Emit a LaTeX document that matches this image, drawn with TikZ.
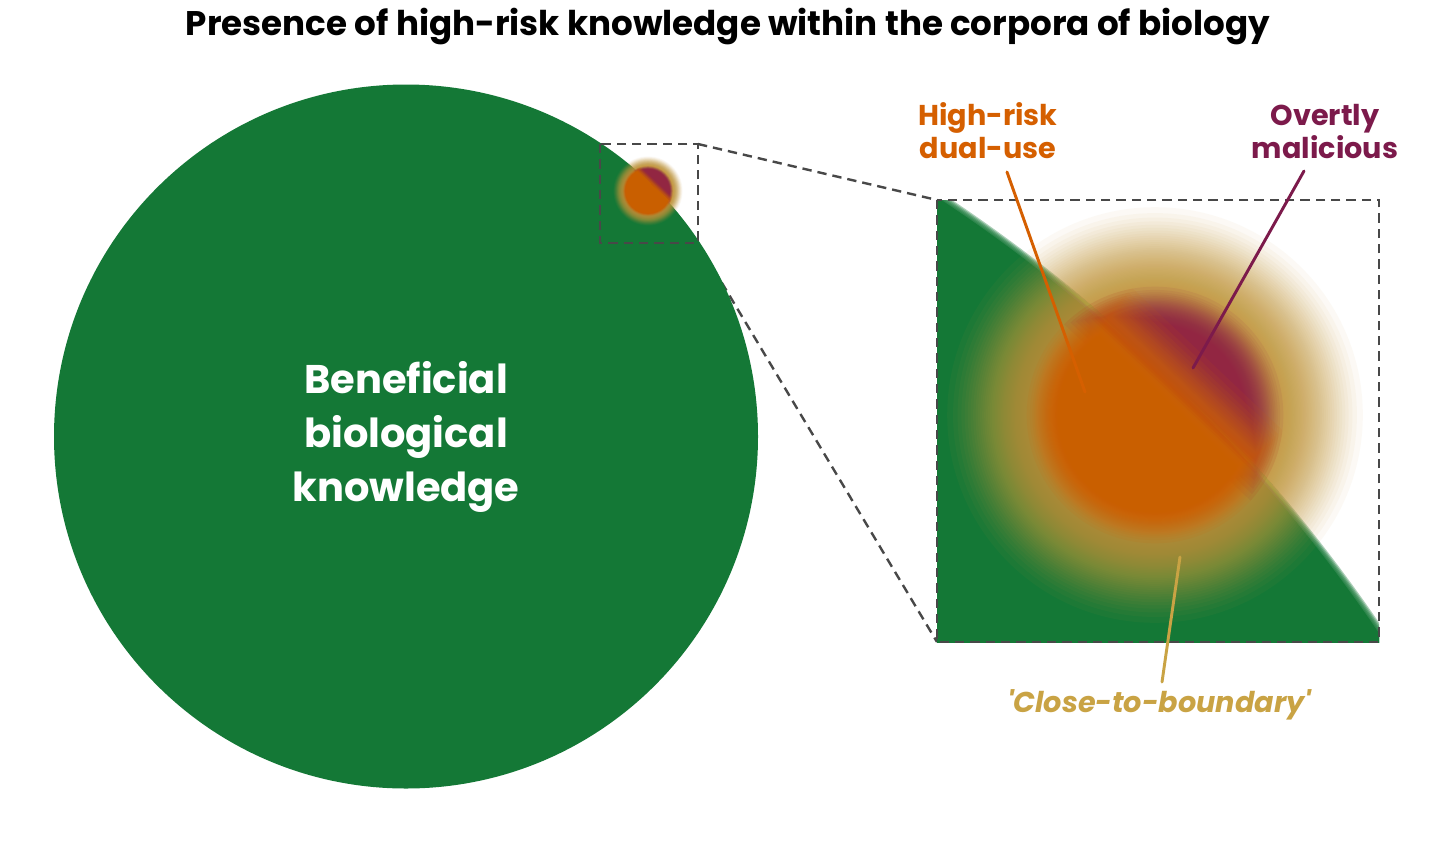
\documentclass[tikz,border=0pt]{standalone}
\usepackage{fontspec}
\setmainfont{Poppins}
\definecolor{bgreen}{RGB}{20,120,54}
\definecolor{orng}{RGB}{213,95,0}
\definecolor{purp}{RGB}{146,38,78}
\definecolor{purplab}{RGB}{124,26,75}
\definecolor{halo}{RGB}{198,156,64}
\definecolor{tanlab}{RGB}{201,163,68}
\definecolor{dashgray}{RGB}{72,72,72}
\tikzset{
  zoomline/.style={draw=dashgray, line width=1.8pt, dash pattern=on 7pt off 4.5pt},
  boxshape/.style={inner sep=0pt, outer sep=0pt},
  lab/.style={font=\bfseries\fontsize{21.5}{25}\selectfont, anchor=base, inner sep=0pt},
  biglab/.style={font=\bfseries\fontsize{30}{36}\selectfont, anchor=base, inner sep=0pt, text=white},
  leader/.style={line width=2.2pt, line cap=round},
}
% #1 outer halo radius, #2 halo step, #3 core outer radius, #4 core step, #5 core mid radius
\newcommand{\drawblob}[5]{%
  \foreach \j in {1,...,60}{%
    \pgfmathsetmacro\myhr{#1-#2*sqrt(\j)}%
    \fill[halo, fill opacity=0.05] (0,0) circle[radius=\myhr];
  }%
  \foreach \j in {1,...,60}{%
    \pgfmathsetmacro\myrr{#3-#4*sqrt(\j)}%
    \pgfmathsetmacro\myoo{40-1.8*(\myrr-#5)}%
    \begin{scope}
      \clip[rotate=46.6] (\myoo,-500) rectangle (500,500);
      \fill[purp, fill opacity=0.08] (0,0) circle[radius=\myrr];
    \end{scope}
  }%
  \foreach \j in {1,...,60}{%
    \pgfmathsetmacro\myrr{#3-#4*sqrt(\j)}%
    \pgfmathsetmacro\myoo{40+1.8*(\myrr-#5)}%
    \begin{scope}
      \clip[rotate=46.6] (-500,-500) rectangle (\myoo,500);
      \fill[orng, fill opacity=0.08] (0,0) circle[radius=\myrr];
    \end{scope}
  }%
}
\begin{document}
\begin{tikzpicture}[x=0.75pt,y=-0.75pt]
\useasboundingbox[fill=white] (0,0) rectangle (1456,843);
% title
\node[font=\bfseries\fontsize{25.6}{30}\selectfont, anchor=base, inner sep=0pt] (title) at (728,35) {Presence of high-risk knowledge within the corpora of biology};
% frames (invisible nodes for anchors)
\node[boxshape, minimum width=73.5pt, minimum height=74.25pt] (sbox) at (649,193.5) {};
\node[boxshape, minimum width=331.5pt, minimum height=331.5pt] (zbox) at (1158,421) {};
% lower connector, behind the circle
\draw[zoomline] (sbox.south east) -- (zbox.south west);
% big circle
\node[circle, fill=bgreen, minimum size=528pt, inner sep=0pt] (big) at (406,436.5) {};
\node[biglab] (b1) at (406,393) {Beneficial};
\node[biglab] (b2) at (406,447) {biological};
\node[biglab] (b3) at (406,501) {knowledge};
% small blob
\begin{scope}[shift={(648,191)}, scale=0.213]
  \drawblob{170}{7.5}{122}{3.8}{108}
\end{scope}
\draw[zoomline] (sbox.north west) rectangle (sbox.south east);
\draw[zoomline] (sbox.north east) -- (zbox.north west);
% zoomed view
\begin{scope}
  \clip (zbox.north west) rectangle (zbox.south east);
  \foreach \i in {0,...,4}{\fill[bgreen, fill opacity=0.35] (72,1516) circle[radius={1583-1.2*\i}];}
  \fill[bgreen] (72,1516) circle[radius=1577];
  \begin{scope}[shift={(1155,415)}]
    \drawblob{222}{14.2}{136}{7.7}{108}
  \end{scope}
\end{scope}
\draw[zoomline] (zbox.north west) rectangle (zbox.south east);
% labels
\node[lab, text=orng] (hr1) at (988,125) {High-risk};
\node[lab, text=orng] (hr2) at (988,158) {dual-use};
\node[lab, text=purplab] (om1) at (1325,125) {Overtly};
\node[lab, text=purplab] (om2) at (1325,158) {malicious};
\node[lab, text=tanlab, font=\bfseries\itshape\fontsize{21.5}{25}\selectfont] (cb) at (1159,712) {\textquotesingle Close-to-boundary\textquotesingle};
\coordinate (hrA) at (1007,172);
\coordinate (hrB) at (1085,392);
\coordinate (omA) at (1304,171);
\coordinate (omB) at (1193,368);
\coordinate (cbA) at (1180,557);
\coordinate (cbB) at (1162,682);
\draw[leader, orng] (hrA) -- (hrB);
\draw[leader, purplab] (omA) -- (omB);
\draw[leader, tanlab] (cbA) -- (cbB);
\end{tikzpicture}
\end{document}
